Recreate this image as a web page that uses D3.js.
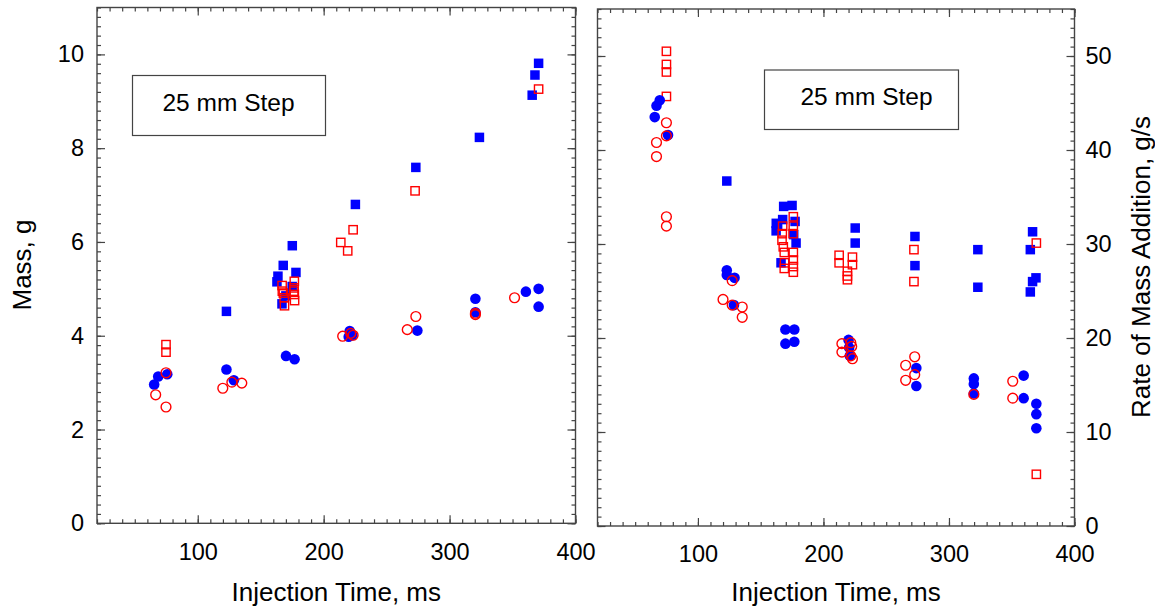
<!DOCTYPE html>
<html>
<head>
<meta charset="utf-8">
<script src="https://cdn.jsdelivr.net/npm/d3@7"></script>
<style>
  body { margin: 0; background: #fff; }
  svg { font-family: "Liberation Sans", Arial, sans-serif; }
</style>
</head>
<body>
<svg id="chart" width="1155" height="610"></svg>
<script>
// x ticks (injection time, ms), shared by both panels
const timeTicks = [100, 200, 300, 400];
const massTicks = [0, 2, 4, 6, 8, 10];
const rateTicks = [0, 10, 20, 30, 40, 50];

// left panel: mass, g   [time, mass]
const massBlueSquares = [[122.8,4.52],[162.9,5.15],[163.7,5.27],[166.9,4.68],[167.9,5.50],[170,4.85],[175,5.05],
  [175.1,5.92],[178,5.35],[225.2,6.80],[273.2,7.59],[323.7,8.23],[365.6,9.13],[367.8,9.56],[370.7,9.81]];
const massRedSquares = [[74.8,3.81],[74.8,3.65],[167,5.07],[167.2,4.95],[168,4.91],[168.7,4.81],[168.9,4.64],
  [176.7,5.16],[176.5,5.02],[176.7,4.88],[176.9,4.75],[176.3,4.95],[213.6,5.99],[219.1,5.81],[223.4,6.26],
  [272.6,7.09],[370.7,9.26]];
const massBlueCircles = [[65.4,2.96],[68.6,3.13],[75.8,3.18],[122.8,3.28],[128.7,3.05],[170.1,3.57],[176.9,3.50],
  [219.9,3.98],[220.7,4.10],[222.6,4.01],[274.4,4.11],[320.5,4.79],[320.5,4.50],[360.6,4.94],[370.7,5.00],[370.7,4.62]];
const massRedCircles = [[66.6,2.74],[74.8,2.48],[74.8,3.21],[119.9,2.88],[127.1,3.01],[135,2.99],[215.1,3.99],
  [221.5,4.05],[223.4,4.01],[266.4,4.13],[273.2,4.41],[320.5,4.45],[320.5,4.48],[351.6,4.81]];

// right panel: rate of mass addition, g/s   [time, rate]
const rateBlueSquares = [[123,36.7],[162.4,32.2],[162.3,31.4],[163.5,32.0],[166.2,28.0],[167.5,32.6],[168.3,34.0],
  [175,34.1],[176.3,31.0],[177.4,32.4],[178.2,30.1],[225.3,31.7],[225.3,30.1],[272.9,30.8],[272.9,27.7],
  [323,29.4],[323,25.4],[364.8,29.4],[364.8,24.9],[366.6,31.3],[366.6,26.0],[369.3,26.4]];
const rateRedSquares = [[74.9,50.5],[74.9,49.1],[74.9,48.3],[74.9,45.7],[167.5,31.9],[167.2,31.1],[167,30.4],
  [168,29.7],[168.8,29.1],[169,28.0],[168.8,27.4],[176,32.9],[176,31.9],[175.8,31.1],[176,29.1],[176,28.3],
  [176,27.6],[176,27.0],[212.5,28.8],[212.5,28.0],[219.1,27.1],[219.1,26.6],[219.1,26.2],[223.1,28.6],
  [223.1,27.8],[272.1,29.4],[272.1,26.0],[369.6,30.1],[369.6,5.5]];
const rateBlueCircles = [[65.6,43.5],[67,44.7],[69.6,45.3],[76.2,41.6],[123,27.2],[123,26.7],[129.2,26.4],
  [128.7,23.5],[169.7,20.9],[176.8,20.9],[169.7,19.4],[176.8,19.6],[220,19.8],[220.5,19.0],[221,18.1],
  [274,16.8],[274,14.9],[319.8,15.7],[319.8,15.1],[319.8,14.1],[359.5,16.0],[359.5,13.6],[369.6,13.0],
  [369.6,11.9],[369.6,10.4]];
const rateRedCircles = [[74.9,42.9],[74.9,41.5],[67,40.8],[67,39.3],[74.9,32.9],[74.9,31.9],[127.3,26.1],
  [120,24.1],[127.3,23.5],[135.3,23.3],[135.3,22.2],[214.7,19.4],[214.7,18.5],[221.8,19.5],[222.5,19.1],
  [221.8,18.1],[223.1,17.8],[265.5,17.1],[265.5,15.5],[272.7,18.0],[272.7,16.1],[319.8,14.0],[350.8,15.4],
  [350.8,13.6]];

const svg = d3.select("#chart");
const BLUE = "#0000ff", RED = "#ff0000", FRAME = "#444";

function drawPanel(p) {
  const x = d3.scaleLinear().domain([20, 400]).range([p.left, p.right]);
  const y = d3.scaleLinear().domain([0, p.yMax]).range([p.bottom, p.top]);
  const g = svg.append("g");

  const xMinor = d3.range(20, 401, 10);
  const yMinor = d3.range(0, p.yMax + 1e-9, p.yStep);

  // minor ticks, all four sides, pointing inward
  g.append("g").attr("transform", `translate(0,${p.bottom})`)
    .call(d3.axisBottom(x).tickValues(xMinor).tickSize(-4).tickFormat(""));
  g.append("g").attr("transform", `translate(0,${p.top})`)
    .call(d3.axisTop(x).tickValues(xMinor).tickSize(-4).tickFormat(""));
  g.append("g").attr("transform", `translate(${p.left},0)`)
    .call(d3.axisLeft(y).tickValues(yMinor).tickSize(-4).tickFormat(""));
  g.append("g").attr("transform", `translate(${p.right},0)`)
    .call(d3.axisRight(y).tickValues(yMinor).tickSize(-4).tickFormat(""));

  // major ticks
  g.append("g").attr("transform", `translate(0,${p.bottom})`)
    .call(d3.axisBottom(x).tickValues(timeTicks).tickSize(-8).tickPadding(p.xPad).tickFormat(d3.format("d")));
  g.append("g").attr("transform", `translate(0,${p.top})`)
    .call(d3.axisTop(x).tickValues(timeTicks).tickSize(-8).tickFormat(""));
  g.append("g").attr("transform", `translate(${p.left},0)`)
    .call(d3.axisLeft(y).tickValues(p.yTicks).tickSize(-8).tickPadding(13)
      .tickFormat(p.labelSide === "left" ? d3.format("d") : ""));
  g.append("g").attr("transform", `translate(${p.right},0)`)
    .call(d3.axisRight(y).tickValues(p.yTicks).tickSize(-8).tickPadding(11)
      .tickFormat(p.labelSide === "right" ? d3.format("d") : ""));

  g.selectAll(".domain").remove();
  g.selectAll(".tick line").attr("stroke", FRAME).attr("stroke-width", 1.2);
  g.selectAll(".tick text").attr("font-size", 23.5).attr("fill", "#000")
    .attr("font-family", "'Liberation Sans', Arial, sans-serif");

  g.append("rect")
    .attr("x", p.left).attr("y", p.top)
    .attr("width", p.right - p.left).attr("height", p.bottom - p.top)
    .attr("fill", "none").attr("stroke", FRAME).attr("stroke-width", 1.4);

  // label box
  g.append("rect")
    .attr("x", p.box[0]).attr("y", p.box[1]).attr("width", p.box[2]).attr("height", p.box[3])
    .attr("fill", "#fff").attr("stroke", FRAME).attr("stroke-width", 1.2);
  g.append("text")
    .attr("x", p.boxText[0]).attr("y", p.boxText[1])
    .attr("font-size", 24.5).attr("text-anchor", "middle")
    .text("25 mm Step");

  // squares
  const sq = 9.5;
  g.append("g").selectAll("rect").data(p.blueSquares).join("rect")
    .attr("x", d => x(d[0]) - sq / 2).attr("y", d => y(d[1]) - sq / 2)
    .attr("width", sq).attr("height", sq).attr("fill", BLUE);
  g.append("g").selectAll("rect").data(p.redSquares).join("rect")
    .attr("x", d => x(d[0]) - sq / 2 + 0.6).attr("y", d => y(d[1]) - sq / 2 + 0.6)
    .attr("width", sq - 1.2).attr("height", sq - 1.2)
    .attr("fill", "none").attr("stroke", RED).attr("stroke-width", 1.4);

  // circles
  g.append("g").selectAll("circle").data(p.blueCircles).join("circle")
    .attr("cx", d => x(d[0])).attr("cy", d => y(d[1])).attr("r", 5.3).attr("fill", BLUE);
  g.append("g").selectAll("circle").data(p.redCircles).join("circle")
    .attr("cx", d => x(d[0])).attr("cy", d => y(d[1])).attr("r", 4.9)
    .attr("fill", "none").attr("stroke", RED).attr("stroke-width", 1.4);

  // x title
  g.append("text")
    .attr("x", (p.left + p.right) / 2).attr("y", 601)
    .attr("font-size", 26).attr("text-anchor", "middle")
    .text("Injection Time, ms");

  return { x, y };
}

drawPanel({
  left: 97, right: 575.5, top: 7.5, bottom: 523.3,
  yMax: 11, yStep: 0.2, yTicks: massTicks, labelSide: "left", xPad: 20,
  box: [132.5, 75.5, 193, 60], boxText: [228.5, 110.5],
  blueSquares: massBlueSquares, redSquares: massRedSquares,
  blueCircles: massBlueCircles, redCircles: massRedCircles
});

drawPanel({
  left: 597.5, right: 1074.5, top: 9, bottom: 526,
  yMax: 55, yStep: 1, yTicks: rateTicks, labelSide: "right", xPad: 19,
  box: [764.5, 70, 194, 59.5], boxText: [866.5, 105],
  blueSquares: rateBlueSquares, redSquares: rateRedSquares,
  blueCircles: rateBlueCircles, redCircles: rateRedCircles
});

// y titles
svg.append("text")
  .attr("transform", "translate(30.5,265) rotate(-90)")
  .attr("font-size", 26).attr("text-anchor", "middle")
  .text("Mass, g");
svg.append("text")
  .attr("transform", "translate(1150,267) rotate(-90)")
  .attr("font-size", 26).attr("text-anchor", "middle")
  .text("Rate of Mass Addition, g/s");
</script>
</body>
</html>
